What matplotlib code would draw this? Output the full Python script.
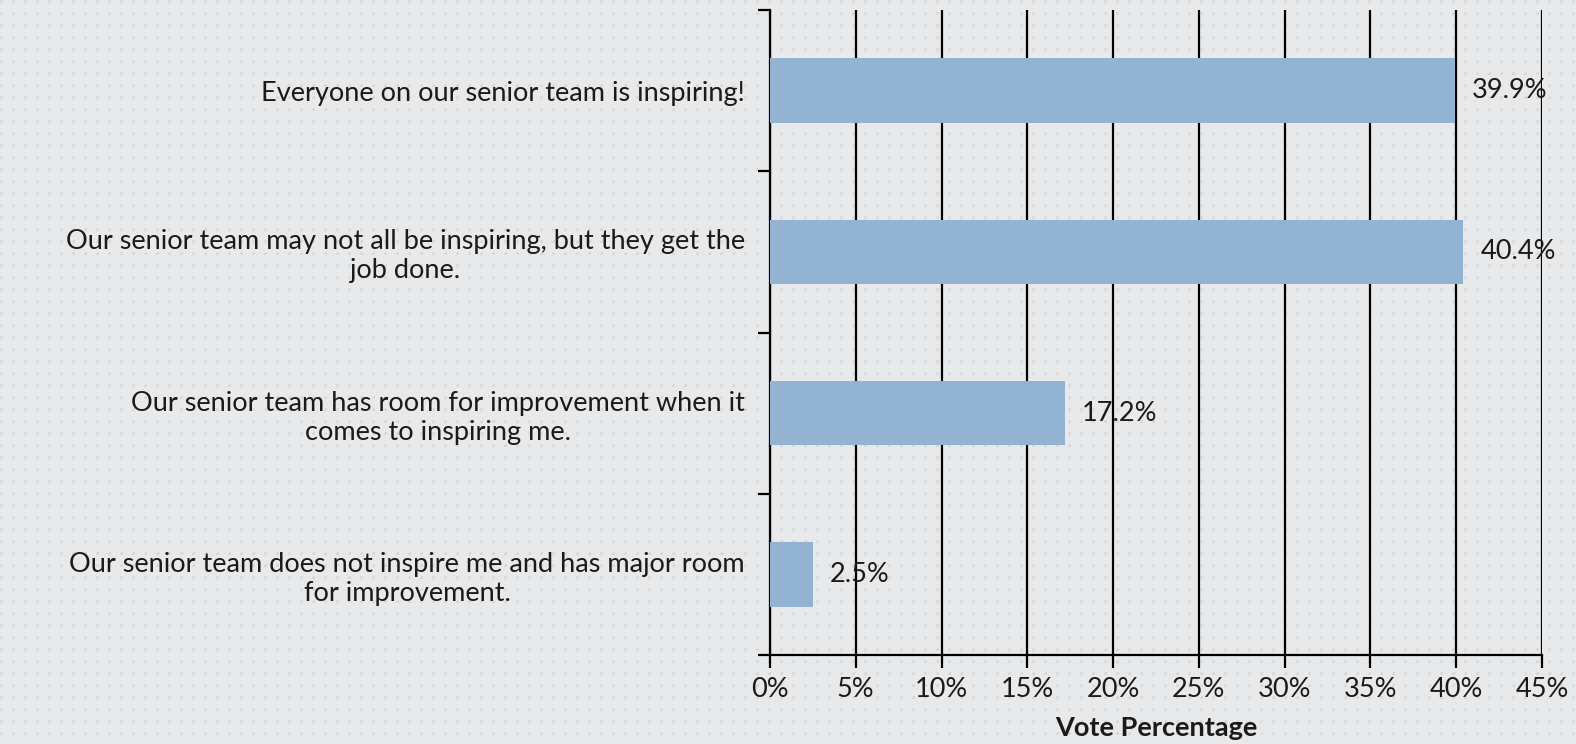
import numpy as np
import matplotlib
matplotlib.use("Agg")
import matplotlib.pyplot as plt
from matplotlib.ticker import FixedLocator, PercentFormatter

categories = [
    "Everyone on our senior team is inspiring!",
    "Our senior team may not all be inspiring, but they get the\njob done.",
    "Our senior team has room for improvement when it\ncomes to inspiring me.",
    "Our senior team does not inspire me and has major room\nfor improvement.",
]
values = [39.9, 40.4, 17.2, 2.5]
value_labels = ["39.9%", "40.4%", "17.2%", "2.5%"]
x_ticks = [0, 5, 10, 15, 20, 25, 30, 35, 40, 45]

plt.rcParams['font.family'] = ['Lato', 'DejaVu Sans']

W, H = 1576, 744
fig = plt.figure(figsize=(W / 100, H / 100), dpi=100)
fig.patch.set_facecolor('#e8e9eb')

# dotted background texture
bg = np.ones((H, W, 3)) * np.array([0xe8, 0xe9, 0xeb]) / 255.0
yy, xx = np.mgrid[0:H, 0:W]
dots = ((xx % 12) < 3) & ((yy % 12) < 3) & ((xx % 12) + (yy % 12) != 0)
bg[dots] = np.array([0xd8, 0xd9, 0xdb]) / 255.0
fig.figimage(bg, 0, 0, zorder=-10)

ax = fig.add_axes([770 / W, 1 - 655 / H, (1542 - 770) / W, (655 - 10) / H])
ax.set_zorder(5)
ax.set_facecolor('none')

txt = '#1a1a1a'
n = len(categories)
pos = np.arange(n)
ax.barh(pos, values, height=0.4, color='#93b3d2', zorder=3)
ax.set_ylim(n - 0.5, -0.5)
ax.set_xlim(0, 45)

for p, v, lab in zip(pos, values, value_labels):
    ax.text(v + 1.0, p, lab, va='center', ha='left', fontsize=19.5,
            color=txt, zorder=4)

ax.xaxis.set_major_locator(FixedLocator(x_ticks))
ax.xaxis.set_major_formatter(PercentFormatter(decimals=0))
ax.grid(axis='x', color='black', linewidth=1.6, zorder=1)
ax.tick_params(axis='x', length=9, width=1.6, labelsize=19.5, pad=7, colors='black', labelcolor=txt)

ax.yaxis.set_major_locator(FixedLocator(np.arange(-0.5, n, 1.0)))
ax.yaxis.set_major_formatter(plt.NullFormatter())
ax.set_yticks(pos, minor=True)
ax.set_yticklabels(categories, minor=True, fontsize=19.5, multialignment='center',
                   color=txt)
ax.tick_params(axis='y', which='major', length=9, width=1.6, direction='out')
ax.tick_params(axis='y', which='minor', length=0, pad=18)

for s in ['top', 'right']:
    ax.spines[s].set_visible(False)
for s in ['left', 'bottom']:
    ax.spines[s].set_linewidth(1.6)
    ax.spines[s].set_color('black')

ax.set_xlabel("Vote Percentage", fontsize=19.5, fontweight='bold', labelpad=10, color=txt)

fig.savefig("out.png", dpi=100, facecolor=fig.get_facecolor())
